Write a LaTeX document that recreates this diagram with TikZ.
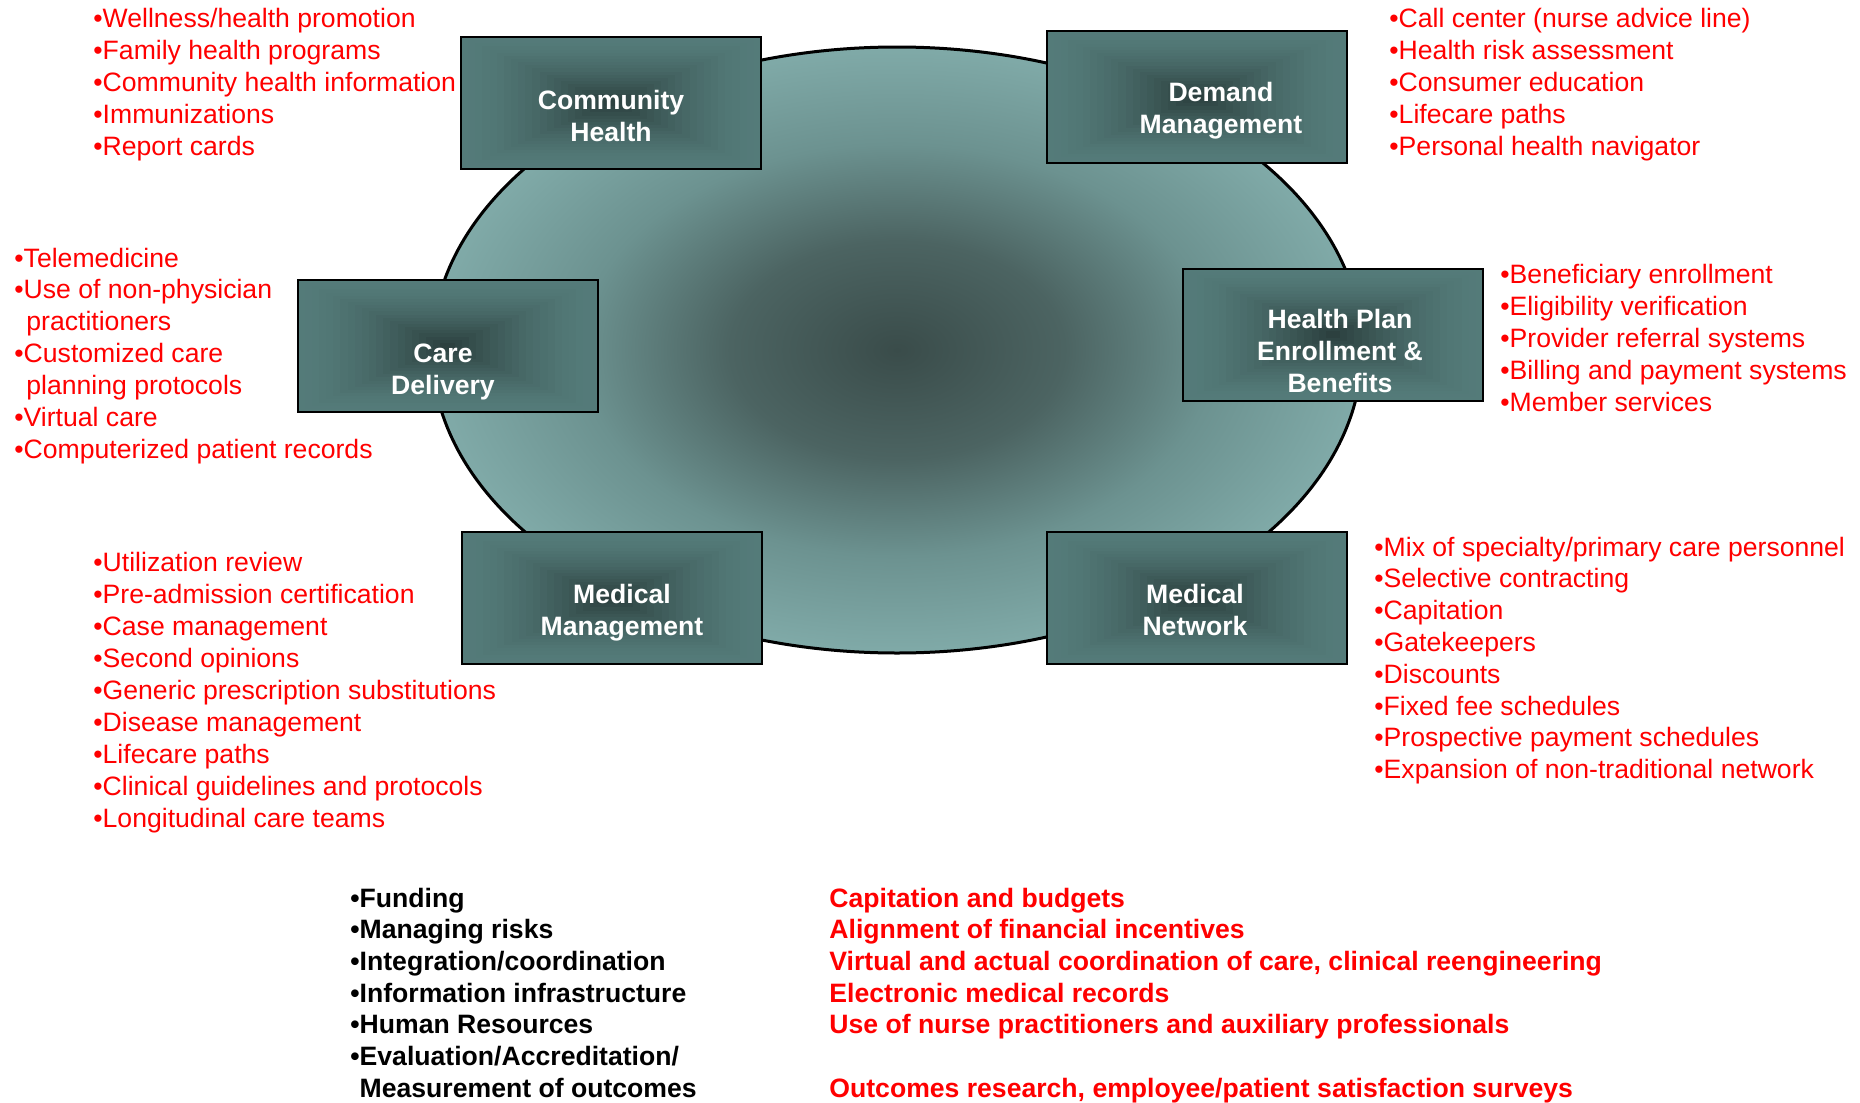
\documentclass[tikz,border=0pt]{standalone}
\usepackage{fontspec}
\setmainfont{Liberation Sans}
\usetikzlibrary{calc}
\definecolor{ovaldark}{HTML}{3A4C4A}
\definecolor{ovalmid}{HTML}{4C6462}
\definecolor{ovalsoft}{HTML}{6C9290}
\definecolor{ovallight}{HTML}{80AAA8}
\definecolor{boxedge}{HTML}{547B79}
\definecolor{boxdark}{HTML}{2C403F}
\pgfdeclareradialshading{ovalshade}{\pgfpoint{0bp}{0bp}}{color(0bp)=(ovaldark); color(9bp)=(ovalmid); color(17bp)=(ovalsoft); color(25bp)=(ovallight); color(50bp)=(ovallight)}

\begin{document}
\begin{tikzpicture}[x=0.5pt, y=-0.5pt,
		item/.style={anchor=base west, inner sep=0pt, text=red, font=\fontsize{13.3pt}{15.9pt}\selectfont},
		bolditem/.style={item, font=\bfseries\fontsize{13.3pt}{15.9pt}\selectfont},
		areatext/.style={text=white, align=center, inner sep=0pt, font=\bfseries\fontsize{13.3pt}{15.9pt}\selectfont},
		areabox/.style={draw=black, line width=1pt, inner sep=0pt, minimum width=150pt, minimum height=66pt,
			path picture={
				\foreach \k [evaluate=\k as \pc using {100*(\k/20)^1.6}, evaluate=\k as \sc using {1-\k/21}] in {0,...,20}
				{
					\fill[boxdark!\pc!boxedge]
						($(path picture bounding box.center)!\sc!(path picture bounding box.south west)$) rectangle
						($(path picture bounding box.center)!\sc!(path picture bounding box.north east)$);
				}
			}}]
		\useasboundingbox (0,0) rectangle (1860,1103);
		% the oval
		\draw[line width=1.5pt, shading=ovalshade] (897,350) ellipse [x radius=465, y radius=303];
		% the six areas
		\node[areabox] (chbox) at (611,103) {};
		\node[areabox] (dmbox) at (1197,97) {};
		\node[areabox] (cdbox) at (447.5,346) {};
		\node[areabox] (hpbox) at (1333,334.5) {};
		\node[areabox] (mmbox) at (611.5,598) {};
		\node[areabox] (mnbox) at (1197,598) {};
		\node[areatext] (chtext) at (611,116) {Community\\Health};
		\node[areatext] (dmtext) at (1221,111) {Demand\\Management};
		\node[areatext] (cdtext) at (443,372) {Care\\Delivery};
		\node[areatext] (hptext) at (1340,351) {Health Plan\\Enrollment \&\\Benefits};
		\node[areatext] (mmtext) at (622,613) {Medical\\Management};
		\node[areatext] (mntext) at (1195,610) {Medical\\Network};
		% community health
		\foreach \t [count=\i from 0] in {Wellness/health promotion, Family health programs, Community health information, Immunizations, Report cards}
		{
			\node[item] (ch-\i) at (93,27+32*\i) {•\t};
		}
		% demand management
		\foreach \t [count=\i from 0] in {Call center (nurse advice line), Health risk assessment, Consumer education, Lifecare paths, Personal health navigator}
		{
			\node[item] (dm-\i) at (1389,27+32*\i) {•\t};
		}
		% care delivery
		\foreach \t [count=\i from 0] in {•Telemedicine, •Use of non-physician, \hspace*{6pt}practitioners, •Customized care, \hspace*{6pt}planning protocols, •Virtual care, •Computerized patient records}
		{
			\node[item] (cd-\i) at (14,267+31.9*\i) {\t};
		}
		% health plan enrollment
		\foreach \t [count=\i from 0] in {Beneficiary enrollment, Eligibility verification, Provider referral systems, Billing and payment systems, Member services}
		{
			\node[item] (hp-\i) at (1500,283+32*\i) {•\t};
		}
		% medical management
		\foreach \t [count=\i from 0] in {Utilization review, Pre-admission certification, Case management, Second opinions, Generic prescription substitutions, Disease management, Lifecare paths, Clinical guidelines and protocols, Longitudinal care teams}
		{
			\node[item] (mm-\i) at (93,571+32*\i) {•\t};
		}
		% medical network
		\foreach \t [count=\i from 0] in {Mix of specialty/primary care personnel, Selective contracting, Capitation, Gatekeepers, Discounts, Fixed fee schedules, Prospective payment schedules, Expansion of non-traditional network}
		{
			\node[item] (mn-\i) at (1374,556+31.8*\i) {•\t};
		}
		% issues and answers
		\foreach \t [count=\i from 0] in {•Funding, •Managing risks, •Integration/coordination, •Information infrastructure, •Human Resources, •Evaluation/Accreditation/, \phantom{•}Measurement of outcomes}
		{
			\node[bolditem, text=black] (issue-\i) at (350,907+31.7*\i) {\t};
		}
		\foreach \t/\i in {Capitation and budgets/0, Alignment of financial incentives/1, {Virtual and actual coordination of care, clinical reengineering}/2, Electronic medical records/3, Use of nurse practitioners and auxiliary professionals/4, {Outcomes research, employee/patient satisfaction surveys}/6}
		{
			\node[bolditem] (answer-\i) at (829,907+31.7*\i) {\t};
		}
	\end{tikzpicture}
\end{document}
